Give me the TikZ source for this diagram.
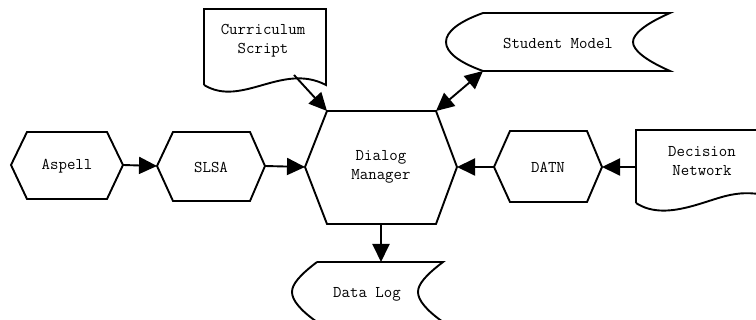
\documentclass[tikz,border=0pt]{standalone}
\usetikzlibrary{arrows.meta}
\begin{document}
\begin{tikzpicture}[x=1pt,y=-1pt,
  shapeline/.style={line width=1.9pt, line join=miter},
  lbl/.style={font=\ttfamily\fontsize{16.4}{19}\selectfont, align=center, inner sep=0pt},
  conn/.style={line width=1.9pt, -{Triangle[length=18pt,width=17pt]}},
  biconn/.style={line width=1.9pt, {Triangle[length=18pt,width=17pt]}-{Triangle[length=18pt,width=17pt]}}]
\useasboundingbox (0,0) rectangle (756,320);
\clip (0,0) rectangle (756,320);
% Aspell
\draw[shapeline] (11,165) -- (27,132) -- (107,132) -- (123,165) -- (107,199) -- (27,199) -- cycle;
\node[lbl] (aspell) at (67,166) {Aspell};
\coordinate (aspell-e) at (123,165);
% SLSA
\draw[shapeline] (157,166) -- (173,132) -- (250,132) -- (265,166) -- (250,201) -- (173,201) -- cycle;
\node[lbl] (slsa) at (211,167) {SLSA};
\coordinate (slsa-w) at (157,166);
\coordinate (slsa-e) at (265,166);
% Dialog Manager
\draw[shapeline] (305,167) -- (327,111) -- (436,111) -- (457,167) -- (436,224) -- (327,224) -- cycle;
\node[lbl] (dm) at (381,167) {Dialog\\Manager};
\coordinate (dm-w) at (305,167);
\coordinate (dm-e) at (457,167);
\coordinate (dm-nw) at (327,111);
\coordinate (dm-ne) at (436,111);
\coordinate (dm-s) at (381,224);
% DATN
\draw[shapeline] (494,167) -- (510,131) -- (587,131) -- (602,167) -- (587,202) -- (510,202) -- cycle;
\node[lbl] (datn) at (548,167) {DATN};
\coordinate (datn-w) at (494,167);
\coordinate (datn-e) at (602,167);
% Curriculum Script
\draw[shapeline] (204,85) -- (204,9) -- (326,9) -- (326,85)
  .. controls (282,62) and (242,108) .. (204,85);
\node[lbl] (cs) at (263,41) {Curriculum\\Script};
\coordinate (cs-s) at (294,75);
% Student Model
\draw[shapeline] (483,13) -- (670,13) .. controls (645,24) and (633,34) .. (633,42)
  .. controls (633,50) and (645,60) .. (670,71) -- (483,71)
  .. controls (458,62) and (446,52) .. (446,42)
  .. controls (446,32) and (458,22) .. (483,13) -- cycle;
\node[lbl] (sm) at (558,43) {Student Model};
\coordinate (sm-sw) at (483,71);
% Decision Network
\draw[shapeline] (636,203) -- (636,130) -- (790,130);
\draw[shapeline] (636,203) .. controls (665,222) and (705,200) .. (730,195) .. controls (745,192) and (755,193) .. (770,196);
\node[lbl] (dn) at (702,161) {Decision\\Network};
\coordinate (dn-w) at (636,167);
% Data Log
\draw[shapeline] (317,262) -- (443,262) .. controls (426,275) and (418,284) .. (418,292)
  .. controls (418,300) and (426,310) .. (443,322);
\draw[shapeline] (317,262) .. controls (300,275) and (292,284) .. (292,292)
  .. controls (292,300) and (300,310) .. (317,322);
\node[lbl] (dl) at (367,294) {Data Log};
\coordinate (dl-n) at (381,262);
% connectors
\draw[conn] (aspell-e) -- (slsa-w);
\draw[conn] (slsa-e) -- (dm-w);
\draw[conn] (datn-w) -- (dm-e);
\draw[conn] (dn-w) -- (datn-e);
\draw[conn] (cs-s) -- (dm-nw);
\draw[biconn] (sm-sw) -- (dm-ne);
\draw[conn] (dm-s) -- (dl-n);
\end{tikzpicture}
\end{document}
